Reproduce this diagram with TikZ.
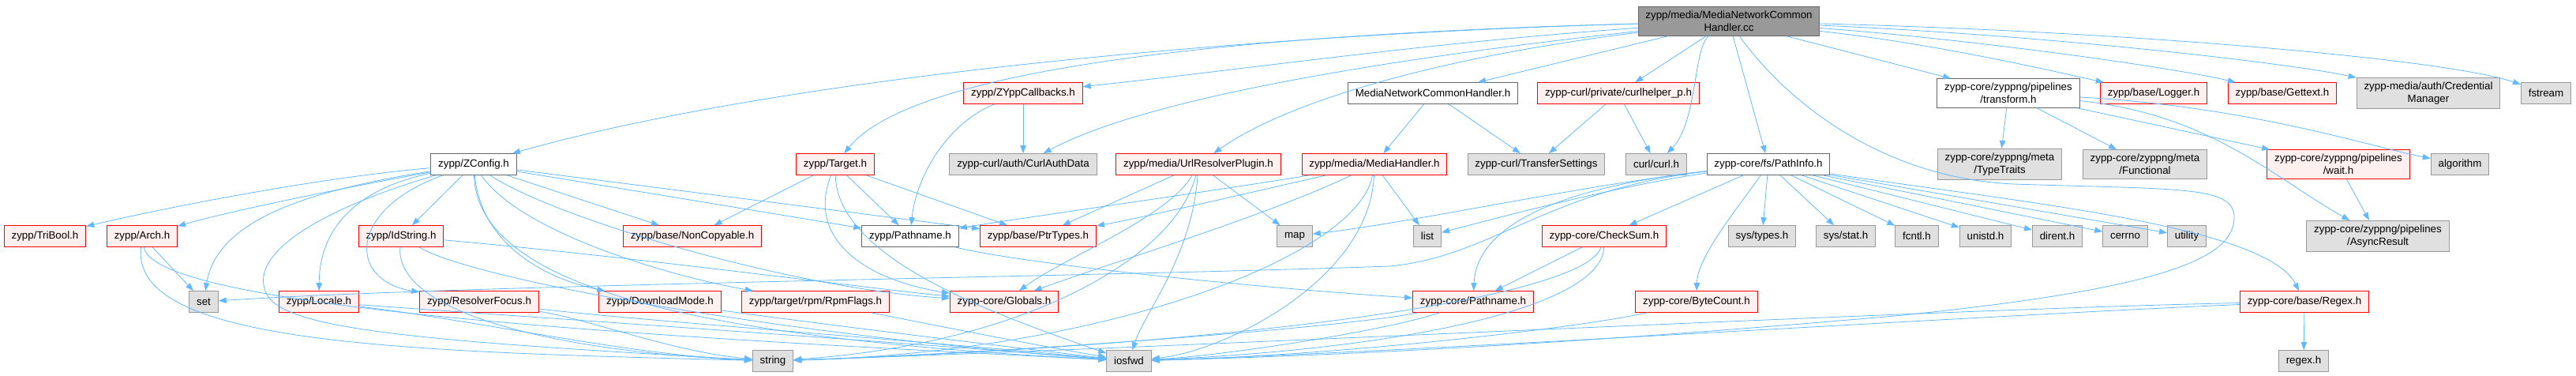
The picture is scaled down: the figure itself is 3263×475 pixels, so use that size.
\documentclass[tikz,border=0pt]{standalone}
\usepackage{fontspec}
\setmainfont{Liberation Sans}
\usetikzlibrary{arrows.meta}
\definecolor{edgeblue}{HTML}{63B8FF}
\definecolor{redfill}{HTML}{FFF0F0}
\definecolor{grayfill}{HTML}{E0E0E0}
\definecolor{grayline}{HTML}{999999}
\definecolor{darkline}{HTML}{666666}
\begin{document}
\begin{tikzpicture}[x=0.75pt,y=0.75pt,
    every node/.style={font=\fontsize{10}{12}\selectfont, inner xsep=7pt, inner ysep=4pt,
      minimum height=20pt, align=center, line width=0.75pt},
    redbox/.style={draw=red, fill=redfill},
    graybox/.style={draw=grayline, fill=grayfill},
    whitebox/.style={draw=darkline, fill=white},
    rootbox/.style={draw=darkline, fill=grayline},
    inc/.style={edgeblue, line width=0.6pt, -{Triangle[length=7.5pt,width=5.5pt]}}]
  \useasboundingbox (0,0) rectangle (3263,475);

  \node[rootbox] (root) at (2190,448) {zypp/media/MediaNetworkCommon\\Handler.cc};

  \node[redbox] (ZYppCallbacks) at (1296,357) {zypp/ZYppCallbacks.h};
  \node[whitebox] (NetHandlerH) at (1815,357) {MediaNetworkCommonHandler.h};
  \node[redbox] (curlhelper) at (2050,357) {zypp-curl/private/curlhelper\_p.h};
  \node[whitebox] (transform) at (2544,357) {zypp-core/zyppng/pipelines\\/transform.h};
  \node[redbox] (Logger) at (2728,357) {zypp/base/Logger.h};
  \node[redbox] (Gettext) at (2891,357) {zypp/base/Gettext.h};
  \node[graybox] (CredManager) at (3076,357) {zypp-media/auth/Credential\\Manager};
  \node[graybox] (fstream) at (3225,357) {fstream};

  \node[whitebox] (ZConfig) at (600,267) {zypp/ZConfig.h};
  \node[redbox] (Target) at (1058,267) {zypp/Target.h};
  \node[graybox] (CurlAuthData) at (1296,267) {zypp-curl/auth/CurlAuthData};
  \node[redbox] (UrlResolver) at (1518,267) {zypp/media/UrlResolverPlugin.h};
  \node[redbox] (MediaHandler) at (1741,267) {zypp/media/MediaHandler.h};
  \node[graybox] (TransferSettings) at (1946,267) {zypp-curl/TransferSettings};
  \node[graybox] (curlh) at (2098,267) {curl/curl.h};
  \node[whitebox] (PathInfo) at (2240,267) {zypp-core/fs/PathInfo.h};
  \node[graybox] (TypeTraits) at (2533,267) {zypp-core/zyppng/meta\\/TypeTraits};
  \node[graybox] (Functional) at (2717,267) {zypp-core/zyppng/meta\\/Functional};
  \node[redbox] (wait) at (2962,267) {zypp-core/zyppng/pipelines\\/wait.h};
  \node[graybox] (algorithm) at (3116,267) {algorithm};

  \node[redbox] (TriBool) at (57,176) {zypp/TriBool.h};
  \node[redbox] (Arch) at (180,176) {zypp/Arch.h};
  \node[redbox] (IdString) at (508,176) {zypp/IdString.h};
  \node[redbox] (NonCopyable) at (877,176) {zypp/base/NonCopyable.h};
  \node[whitebox] (Pathname) at (1153,176) {zypp/Pathname.h};
  \node[redbox] (PtrTypes) at (1315,176) {zypp/base/PtrTypes.h};
  \node[graybox] (map) at (1640,176) {map};
  \node[graybox] (list) at (1808,176) {list};
  \node[redbox] (CheckSum) at (2032,176) {zypp-core/CheckSum.h};
  \node[graybox] (systypes) at (2232,176) {sys/types.h};
  \node[graybox] (sysstat) at (2338,176) {sys/stat.h};
  \node[graybox] (fcntl) at (2428,176) {fcntl.h};
  \node[graybox] (unistd) at (2515,176) {unistd.h};
  \node[graybox] (dirent) at (2606,176) {dirent.h};
  \node[graybox] (cerrno) at (2692,176) {cerrno};
  \node[graybox] (utility) at (2770,176) {utility};
  \node[graybox] (AsyncResult) at (3012,176) {zypp-core/zyppng/pipelines\\/AsyncResult};

  \node[graybox] (set) at (258,93) {set};
  \node[redbox] (Locale) at (404,93) {zypp/Locale.h};
  \node[redbox] (ResolverFocus) at (607,93) {zypp/ResolverFocus.h};
  \node[redbox] (DownloadMode) at (836,93) {zypp/DownloadMode.h};
  \node[redbox] (RpmFlags) at (1033,93) {zypp/target/rpm/RpmFlags.h};
  \node[redbox] (Globals) at (1272,93) {zypp-core/Globals.h};
  \node[redbox] (corePathname) at (1866,93) {zypp-core/Pathname.h};
  \node[redbox] (ByteCount) at (2149,93) {zypp-core/ByteCount.h};
  \node[redbox] (Regex) at (2919,93) {zypp-core/base/Regex.h};

  \node[graybox] (string) at (979,18) {string};
  \node[graybox] (iosfwd) at (1430,18) {iosfwd};
  \node[graybox] (regexh) at (2918,18) {regex.h};

  \draw[inc] (root) .. controls (1600,432) and (1000,380) .. (ZConfig);
  \draw[inc] (root) .. controls (1500,430) and (1150,380) .. (Target);
  \draw[inc] (root) .. controls (1800,420) and (1600,390) .. (ZYppCallbacks);
  \draw[inc] (root) .. controls (1750,400) and (1450,350) .. (CurlAuthData);
  \draw[inc] (root) .. controls (1800,400) and (1620,340) .. (UrlResolver);
  \draw[inc] (root) -- (NetHandlerH);
  \draw[inc] (root) -- (curlhelper);
  \draw[inc] (root) .. controls (2145,415) and (2150,320) .. (curlh);
  \draw[inc] (root) -- (PathInfo);
  \draw[inc] (root) -- (transform);
  \draw[inc] (root) .. controls (2450,420) and (2600,385) .. (Logger);
  \draw[inc] (root) .. controls (2500,425) and (2750,390) .. (Gettext);
  \draw[inc] (root) .. controls (2600,430) and (2900,395) .. (CredManager);
  \draw[inc] (root) .. controls (2700,435) and (3100,400) .. (fstream);
  \draw[inc] (root) .. controls (2260,350) and (2380,250) .. (2550,242)
    .. controls (2760,235) and (2830,240) .. (2830,200)
    .. controls (2830,150) and (2750,110) .. (2400,75)
    .. controls (2000,40) and (1700,25) .. (iosfwd);

  \draw[inc] (ZConfig) .. controls (400,250) and (200,210) .. (TriBool);
  \draw[inc] (ZConfig) .. controls (450,240) and (300,210) .. (Arch);
  \draw[inc] (ZConfig) .. controls (400,235) and (275,200) .. (set);
  \draw[inc] (ZConfig) .. controls (470,240) and (405,200) .. (Locale);
  \draw[inc] (ZConfig) .. controls (440,210) and (440,120) .. (ResolverFocus);
  \draw[inc] (ZConfig) -- (IdString);
  \draw[inc] (ZConfig) -- (NonCopyable);
  \draw[inc] (ZConfig) -- (Pathname);
  \draw[inc] (ZConfig) -- (PtrTypes);
  \draw[inc] (ZConfig) .. controls (610,160) and (700,120) .. (DownloadMode);
  \draw[inc] (ZConfig) .. controls (660,180) and (850,125) .. (RpmFlags);
  \draw[inc] (ZConfig) .. controls (700,200) and (1000,110) .. (Globals);
  \draw[inc] (ZConfig) .. controls (420,215) and (320,160) .. (335,110)
    .. controls (345,60) and (500,45) .. (string);
  \draw[inc] (ZConfig) .. controls (605,100) and (930,45) .. (iosfwd);

  \draw[inc] (Arch) -- (set);
  \draw[inc] (Arch) .. controls (165,40) and (500,30) .. (string);
  \draw[inc] (Arch) .. controls (195,80) and (900,45) .. (iosfwd);
  \draw[inc] (IdString) .. controls (500,80) and (700,30) .. (string);
  \draw[inc] (IdString) .. controls (600,120) and (1000,50) .. (iosfwd);
  \draw[inc] (IdString) .. controls (800,150) and (1100,110) .. (Globals);
  \draw[inc] (Locale) .. controls (600,70) and (800,25) .. (string);
  \draw[inc] (Locale) .. controls (650,75) and (1100,45) .. (iosfwd);
  \draw[inc] (ResolverFocus) .. controls (750,70) and (850,30) .. (string);
  \draw[inc] (ResolverFocus) .. controls (800,70) and (1150,45) .. (iosfwd);
  \draw[inc] (DownloadMode) .. controls (1000,70) and (1200,45) .. (iosfwd);
  \draw[inc] (RpmFlags) .. controls (1150,70) and (1300,40) .. (iosfwd);

  \draw[inc] (Target) -- (NonCopyable);
  \draw[inc] (Target) -- (Pathname);
  \draw[inc] (Target) -- (PtrTypes);
  \draw[inc] (Target) .. controls (1020,170) and (1100,120) .. (Globals);
  \draw[inc] (Target) .. controls (1060,150) and (1250,80) .. (iosfwd);
  \draw[inc] (ZYppCallbacks) -- (CurlAuthData);
  \draw[inc] (ZYppCallbacks) .. controls (1200,320) and (1160,250) .. (Pathname);
  \draw[inc] (Pathname) .. controls (1300,140) and (1600,110) .. (corePathname);

  \draw[inc] (UrlResolver) -- (PtrTypes);
  \draw[inc] (UrlResolver) -- (map);
  \draw[inc] (UrlResolver) .. controls (1480,200) and (1350,150) .. (Globals);
  \draw[inc] (UrlResolver) .. controls (1490,150) and (1300,40) .. (string);
  \draw[inc] (UrlResolver) .. controls (1510,150) and (1450,80) .. (iosfwd);
  \draw[inc] (MediaHandler) .. controls (1550,235) and (1300,200) .. (Pathname);
  \draw[inc] (MediaHandler) .. controls (1600,235) and (1450,200) .. (PtrTypes);
  \draw[inc] (MediaHandler) -- (list);
  \draw[inc] (MediaHandler) .. controls (1600,200) and (1400,140) .. (Globals);
  \draw[inc] (MediaHandler) .. controls (1720,150) and (1400,30) .. (string);
  \draw[inc] (MediaHandler) .. controls (1735,120) and (1550,30) .. (iosfwd);
  \draw[inc] (NetHandlerH) -- (MediaHandler);
  \draw[inc] (NetHandlerH) -- (TransferSettings);
  \draw[inc] (curlhelper) -- (TransferSettings);
  \draw[inc] (curlhelper) -- (curlh);

  \draw[inc] (PathInfo) .. controls (1960,235) and (1890,150) .. (1760,138)
    .. controls (1400,125) and (600,115) .. (set);
  \draw[inc] (PathInfo) .. controls (2000,240) and (1800,195) .. (map);
  \draw[inc] (PathInfo) .. controls (2050,240) and (1900,200) .. (list);
  \draw[inc] (PathInfo) .. controls (1950,235) and (1870,180) .. (corePathname);
  \draw[inc] (PathInfo) -- (CheckSum);
  \draw[inc] (PathInfo) .. controls (2200,210) and (2150,150) .. (ByteCount);
  \foreach \hdr in {systypes,sysstat,fcntl,unistd,dirent,cerrno,utility}
    \draw[inc] (PathInfo) -- (\hdr);
  \draw[inc] (PathInfo) .. controls (2550,220) and (2870,190) .. (Regex);

  \draw[inc] (CheckSum) -- (corePathname);
  \draw[inc] (CheckSum) .. controls (2010,100) and (1600,40) .. (string);
  \draw[inc] (CheckSum) .. controls (2030,90) and (1800,35) .. (iosfwd);
  \draw[inc] (corePathname) .. controls (1700,60) and (1300,30) .. (string);
  \draw[inc] (corePathname) .. controls (1750,55) and (1550,25) .. (iosfwd);
  \draw[inc] (ByteCount) .. controls (2000,60) and (1700,25) .. (iosfwd);
  \draw[inc] (Regex) -- (regexh);
  \draw[inc] (Regex) .. controls (2500,85) and (1600,40) .. (string);
  \draw[inc] (Regex) .. controls (2500,75) and (1800,30) .. (iosfwd);

  \draw[inc] (transform) -- (TypeTraits);
  \draw[inc] (transform) -- (Functional);
  \draw[inc] (transform) -- (wait);
  \draw[inc] (transform) .. controls (2800,330) and (2880,250) .. (AsyncResult);
  \draw[inc] (transform) .. controls (2850,340) and (3000,290) .. (algorithm);
  \draw[inc] (wait) -- (AsyncResult);
\end{tikzpicture}
\end{document}
